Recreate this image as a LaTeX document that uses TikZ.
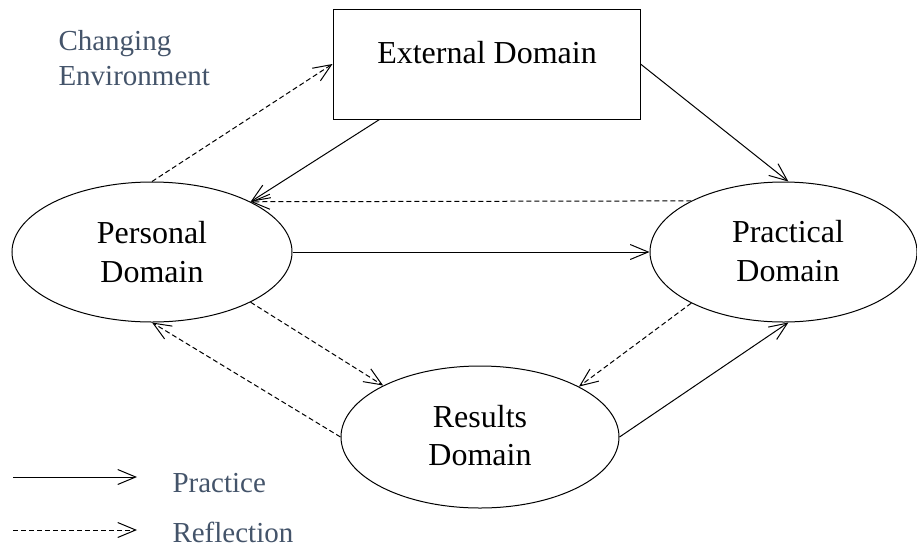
\documentclass[tikz,border=0pt]{standalone}
\usepackage{fontspec}
\setmainfont{Liberation Serif}
\usetikzlibrary{arrows.meta,shapes.geometric}
\definecolor{envgray}{HTML}{44546A}
\begin{document}
\begin{tikzpicture}[x=1pt,y=-1pt,
  line width=1pt,
  dom/.style={draw,ellipse,inner sep=0pt,line width=1pt},
  big/.style={inner sep=0pt,anchor=base,font=\fontsize{32}{39}\selectfont},
  leg/.style={inner sep=0pt,anchor=base west,text=envgray,font=\fontsize{29}{35}\selectfont},
  prac/.style={-{Straight Barb[length=18pt,width=15pt,line width=1pt]}},
  refl/.style={prac,dash pattern=on 5pt off 3pt}]
\useasboundingbox (0,0) rectangle (917,549);
% shapes
\node[draw,minimum width=307pt,minimum height=110pt,inner sep=0pt] (ext) at (486.5,64) {};
\node[dom,minimum width=280pt,minimum height=140pt] (pers) at (152,252) {};
\node[dom,minimum width=267pt,minimum height=140pt] (prac) at (783.5,252) {};
\node[dom,minimum width=278pt,minimum height=142pt] (res) at (480,437) {};
% texts
\node[big] (t1) at (487,63) {External Domain};
\node[big] (t2) at (152,243) {Personal};
\node[big] (t3) at (152,282) {Domain};
\node[big] (t4) at (788,242) {Practical};
\node[big] (t5) at (788,281) {Domain};
\node[big] (t6) at (480,427) {Results};
\node[big] (t7) at (480,465) {Domain};
\node[leg] (ce1) at (58,50) {Changing};
\node[leg] (ce2) at (58,85) {Environment};
% connectors
\draw[prac] ([xshift=47pt]ext.south west) -- (pers.27);
\draw[refl] (pers.north) -- (ext.west);
\draw[refl] (prac.151.8) -- (pers.27);
\draw[prac] (ext.east) -- (prac.86);
\draw[prac] (pers.east) -- (prac.west);
\draw[refl] (pers.-27) -- (res.152.5);
\draw[refl] (res.west) -- (pers.south);
\draw[refl] (prac.-151.1) -- (res.27.3);
\draw[prac] (res.east) -- (prac.-86);
% legend
\coordinate (la1) at (13,477);
\coordinate (la2) at (137,477);
\coordinate (lb1) at (13,530);
\coordinate (lb2) at (137,530);
\draw[prac] (la1) -- (la2);
\draw[refl] (lb1) -- (lb2);
\node[leg] (lg1) at (172,492) {Practice};
\node[leg] (lg2) at (172,542) {Reflection};
\end{tikzpicture}
\end{document}
